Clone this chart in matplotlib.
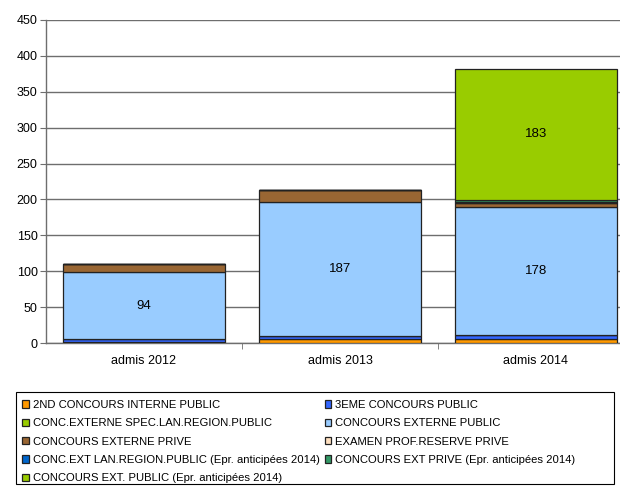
import matplotlib.pyplot as plt
from matplotlib.patches import Rectangle
import numpy as np

plt.rcParams['font.family'] = ['Liberation Sans', 'DejaVu Sans']

# categories and series
years = ["admis 2012", "admis 2013", "admis 2014"]
series_names = [
    "2ND CONCOURS INTERNE PUBLIC",
    "3EME CONCOURS PUBLIC",
    "CONC.EXTERNE SPEC.LAN.REGION.PUBLIC",
    "CONCOURS EXTERNE PUBLIC",
    "CONCOURS EXTERNE PRIVE",
    "EXAMEN PROF.RESERVE PRIVE",
    "CONC.EXT LAN.REGION.PUBLIC (Epr. anticipées 2014)",
    "CONCOURS EXT PRIVE (Epr. anticipées 2014)",
    "CONCOURS EXT. PUBLIC (Epr. anticipées 2014)",
]
interne_2nd = [1, 5, 5]
troisieme = [4, 5, 6]
spec_lan = [0, 0, 0]
externe_public = [94, 187, 178]
externe_prive = [11, 16, 6]
examen_prof = [0, 0, 0]
lan_region_epr = [0, 0, 1]
ext_prive_epr = [0, 0, 3]
ext_public_epr = [0, 0, 183]

series = [interne_2nd, troisieme, spec_lan, externe_public, externe_prive,
          examen_prof, lan_region_epr, ext_prive_epr, ext_public_epr]
colors = ["#FF9900", "#3366FF", "#99CC00", "#99CCFF", "#996633",
          "#FFE0C0", "#0066CC", "#339966", "#99CC00"]
labelled = {3, 8}

fig = plt.figure(figsize=(6.2, 4.86), dpi=100)
W, H = 620, 486
ax = fig.add_axes([46 / W, 1 - 343 / H, (634 - 46) / W, (343 - 20) / H])

x = np.arange(len(years))
bottom = np.zeros(len(years))
handles = []
for i, (vals, c) in enumerate(zip(series, colors)):
    vals = np.array(vals, dtype=float)
    bars = ax.bar(x, vals, width=0.83, bottom=bottom, color=c,
                  edgecolor="#222222", linewidth=0.9, zorder=3)
    handles.append(bars)
    if i in labelled:
        for xi, v, b in zip(x, vals, bottom):
            if v > 0:
                ax.text(xi, b + v / 2, f"{int(v)}", ha="center", va="center",
                        fontsize=9.5, zorder=4)
    bottom += vals

ax.set_xlim(-0.5, 2.5)
ax.set_ylim(0, 450)
ax.set_yticks(range(0, 451, 50))
ax.yaxis.grid(True, color="#6e6e6e", linewidth=1.0, zorder=0)
ax.set_axisbelow(True)
ax.tick_params(axis="y", labelsize=9, length=4, color="#6e6e6e", pad=2)

ax.set_xticks(x)
ax.set_xticklabels(years, fontsize=9)
ax.tick_params(axis="x", which="major", length=0, pad=9)
ax.set_xticks([0.5, 1.5], minor=True)
ax.tick_params(axis="x", which="minor", length=4, color="#6e6e6e")

for s in ["top", "right"]:
    ax.spines[s].set_visible(False)
ax.spines["left"].set_color("#6e6e6e")
ax.spines["left"].set_linewidth(1.0)
ax.spines["bottom"].set_color("#6e6e6e")
ax.spines["bottom"].set_linewidth(1.0)

# legend frame drawn separately, entries laid out row-wise in two columns
fig.patches.append(Rectangle((16 / W, 1 - 484 / H), (614 - 16) / W, (484 - 392) / H,
                             transform=fig.transFigure, fill=False,
                             edgecolor="black", linewidth=0.8))
order = [0, 2, 4, 6, 8, 1, 3, 5, 7]
leg = fig.legend([handles[i] for i in order], [series_names[i] for i in order],
                 ncol=2, loc="upper left",
                 bbox_to_anchor=(22 / W, 1 - 400 / H), fontsize=8.1,
                 frameon=False,
                 handlelength=0.6, handleheight=0.6, handletextpad=0.35,
                 columnspacing=0.45, labelspacing=0.74, borderpad=0.0,
                 borderaxespad=0)

fig.savefig("out.png", dpi=100)
